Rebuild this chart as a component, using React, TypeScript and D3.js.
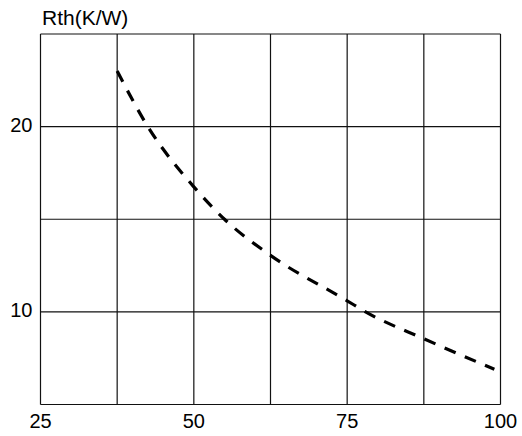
import React from "react";
import * as d3 from "d3";

const curveX = [37.5, 42.5, 50, 55, 62.5, 75, 78, 87.5, 99];
const curveY = [23.0, 20.0, 16.75, 15.0, 13.05, 10.6, 10.0, 8.55, 6.9];
const xTicks = [25, 50, 75, 100];
const xGrid = [25, 37.5, 50, 62.5, 75, 87.5, 100];
const yTicks = [10, 20];
const yGrid = [5, 10, 15, 20, 25];
const yTitle = "Rth(K/W)";

export default function App() {
  const W = 522, H = 436;
  const x = d3.scaleLinear().domain([25, 100]).range([40.5, 500.5]);
  const y = d3.scaleLinear().domain([5, 25]).range([404.5, 34]);
  const pts: [number, number][] = curveX.map((v, i) => [v, curveY[i]]);
  const line = d3
    .line<[number, number]>()
    .x((d) => x(d[0]))
    .y((d) => y(d[1]))
    .curve(d3.curveMonotoneX);
  const font = "'Liberation Sans', Arial, sans-serif";
  return (
    <svg
      width={W}
      height={H}
      style={{ position: "absolute", left: 0, top: 0, background: "#fff" }}
    >
      <rect width={W} height={H} fill="#fff" />
      {xGrid.map((v) => (
        <line key={"vx" + v} x1={x(v)} x2={x(v)} y1={y(5)} y2={y(25)} stroke="#111" strokeWidth={1.2} />
      ))}
      {yGrid.map((v) => (
        <line key={"hy" + v} x1={x(25)} x2={x(100)} y1={y(v)} y2={y(v)} stroke="#111" strokeWidth={1.2} />
      ))}
      <path
        d={line(pts) || ""}
        fill="none"
        stroke="#000"
        strokeWidth={3.2}
        strokeDasharray="12,10"
      />
      {xTicks.map((v) => (
        <text key={"xt" + v} x={x(v)} y={428} textAnchor="middle" fontFamily={font} fontSize={20} fill="#000">
          {v}
        </text>
      ))}
      {yTicks.map((v) => (
        <text key={"yt" + v} x={32.5} y={y(v) + 5.5} textAnchor="end" fontFamily={font} fontSize={20} fill="#000">
          {v}
        </text>
      ))}
      <text x={42} y={24.5} fontFamily={font} fontSize={21} fill="#000">
        {yTitle}
      </text>
    </svg>
  );
}
